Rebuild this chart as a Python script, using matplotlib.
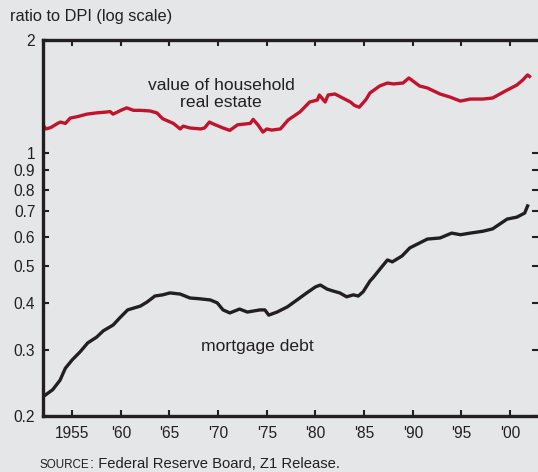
#!/usr/bin/env python3

import matplotlib
matplotlib.use("Agg")
import matplotlib.pyplot as plt

re_years = [1952.0, 1952.3, 1952.8, 1953.5, 1953.8, 1954.3, 1954.8, 1955.5, 1956.5, 1957.5,
            1958.3, 1958.9, 1959.2, 1960.0, 1960.6, 1961.3, 1962.0, 1963.0, 1963.7, 1964.3,
            1965.4, 1966.1, 1966.4, 1967.1, 1968.2, 1968.6, 1969.1, 1969.5, 1970.5, 1971.2,
            1972.0, 1973.3, 1973.6, 1974.1, 1974.6, 1975.0, 1975.5, 1976.4, 1977.2, 1978.4,
            1979.4, 1980.2, 1980.4, 1981.0, 1981.3, 1982.0, 1982.8, 1983.6, 1984.0, 1984.5,
            1985.2, 1985.6, 1986.6, 1987.4, 1988.0, 1989.0, 1989.6, 1990.7, 1991.5, 1992.8,
            1993.8, 1994.9, 1995.9, 1997.2, 1998.2, 1999.7, 2000.7, 2001.3, 2001.8, 2002.0]
re_values = [1.188, 1.16, 1.17, 1.20, 1.21, 1.20, 1.24, 1.25, 1.27, 1.28,
             1.285, 1.29, 1.27, 1.30, 1.32, 1.30, 1.30, 1.295, 1.28, 1.235,
             1.20, 1.16, 1.18, 1.167, 1.16, 1.167, 1.21, 1.196, 1.167, 1.15,
             1.19, 1.20, 1.23, 1.188, 1.138, 1.16, 1.152, 1.16, 1.226, 1.287,
             1.368, 1.385, 1.428, 1.368, 1.428, 1.437, 1.402, 1.368, 1.34, 1.325,
             1.39, 1.446, 1.509, 1.537, 1.528, 1.537, 1.585, 1.509, 1.491, 1.437,
             1.411, 1.376, 1.393, 1.393, 1.402, 1.472, 1.518, 1.565, 1.615, 1.60]

# mortgage debt, ratio to DPI
md_years = [1952.0, 1953.0, 1953.75, 1954.3, 1955.0, 1955.8, 1956.6, 1957.5, 1958.2, 1959.2,
            1959.9, 1960.7, 1962.0, 1962.7, 1963.5, 1964.3, 1965.05, 1966.1, 1967.1, 1968.1,
            1969.2, 1969.9, 1970.5, 1971.2, 1972.2, 1973.0, 1974.3, 1974.8, 1975.2, 1976.05,
            1977.1, 1978.1, 1979.1, 1980.0, 1980.5, 1981.2, 1981.8, 1982.5, 1983.2, 1983.9,
            1984.4, 1984.9, 1985.6, 1985.9, 1986.8, 1987.4, 1987.9, 1988.9, 1989.7, 1991.5,
            1992.8, 1994.0, 1994.9, 1995.9, 1997.2, 1998.2, 1999.7, 2000.7, 2001.5, 2001.8]
md_values = [0.225, 0.235, 0.249, 0.268, 0.282, 0.296, 0.313, 0.324, 0.337, 0.349,
             0.365, 0.383, 0.392, 0.402, 0.417, 0.420, 0.425, 0.422, 0.412, 0.410,
             0.407, 0.400, 0.383, 0.376, 0.385, 0.378, 0.383, 0.383, 0.371, 0.378,
             0.390, 0.407, 0.425, 0.441, 0.446, 0.435, 0.430, 0.425, 0.415, 0.420,
             0.417, 0.428, 0.457, 0.466, 0.498, 0.520, 0.514, 0.533, 0.560, 0.591,
             0.595, 0.613, 0.607, 0.613, 0.620, 0.629, 0.668, 0.676, 0.693, 0.724]

x_ticks = [1955, 1960, 1965, 1970, 1975, 1980, 1985, 1990, 1995, 2000]
x_labels = ["1955", "'60", "'65", "'70", "'75", "'80", "'85", "'90", "'95", "'00"]
y_ticks = [0.2, 0.3, 0.4, 0.5, 0.6, 0.7, 0.8, 0.9, 1, 2]
y_labels = ["0.2", "0.3", "0.4", "0.5", "0.6", "0.7", "0.8", "0.9", "1", "2"]

bg = "#e5e6e8"
ink = "#231f20"
red = "#c0142d"

plt.rcParams["font.family"] = ["Liberation Sans", "DejaVu Sans"]

fig = plt.figure(figsize=(5.38, 4.72), dpi=100, facecolor=bg)
ax = fig.add_axes([43 / 538, 1 - 416 / 472, 1 - 43 / 538, (416 - 40) / 472])
ax.set_facecolor(bg)

ax.plot(re_years, re_values, color=red, lw=2.4, solid_joinstyle="round")
ax.plot(md_years, md_values, color=ink, lw=2.4, solid_joinstyle="round")

ax.set_yscale("log")
ax.set_ylim(0.2, 2)
ax.set_xlim(1952, 2002.87)
ax.set_yticks(y_ticks)
ax.set_yticklabels(y_labels)
ax.yaxis.set_minor_locator(matplotlib.ticker.NullLocator())
ax.set_xticks(x_ticks)
ax.set_xticklabels(x_labels)

for side in ["left", "top", "bottom"]:
    ax.spines[side].set_linewidth(2.4)
    ax.spines[side].set_color(ink)
ax.spines["right"].set_visible(False)

ax.tick_params(axis="both", direction="in", length=4, width=1.5, color=ink,
               labelsize=11.2, labelcolor=ink)
ax.tick_params(axis="y", right=True, pad=5.5)
ax.tick_params(axis="x", top=True, pad=7)

ax.text(1970.3, 1.437, "value of household\nreal estate", ha="center", va="center",
        fontsize=12.6, color=ink, linespacing=1.2)
ax.text(1974.05, 0.3058, "mortgage debt", ha="center", va="center",
        fontsize=12.6, color=ink)

fig.text(10 / 538, 1 - 17 / 472, "ratio to DPI (log scale)", ha="left", va="center",
         fontsize=11.8, color=ink)

# "source" in small caps, then the rest of the line right after it
src = fig.text(40 / 538, 1 - 468 / 472, "SOURCE", ha="left", va="baseline",
               fontsize=8.4, color=ink)
ax.annotate(": Federal Reserve Board, Z1 Release.", xy=(1, 0), xycoords=src,
            ha="left", va="bottom", fontsize=10.6, color=ink, annotation_clip=False)

plt.savefig("out.png", dpi=100, facecolor=bg)
